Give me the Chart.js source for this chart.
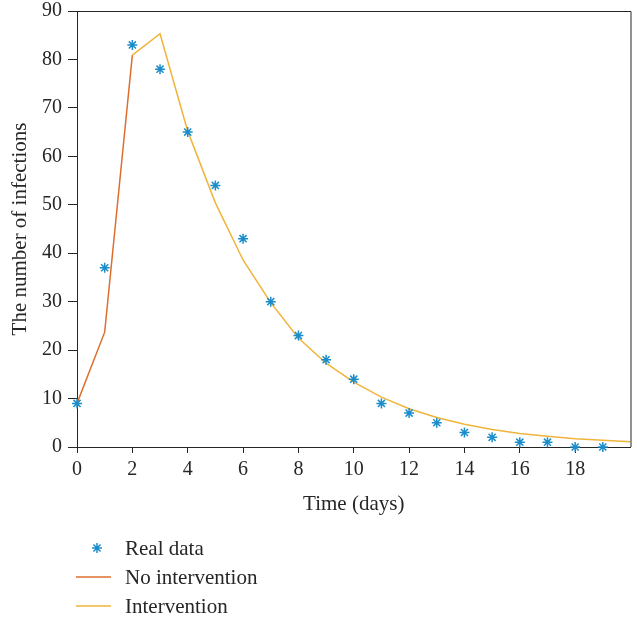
<!DOCTYPE html>
<html>
<head>
<meta charset="utf-8">
<script src="https://cdn.jsdelivr.net/npm/chart.js@4"></script>
<style>
  html, body { margin: 0; padding: 0; background: #fff; }
  #wrap { width: 637px; height: 622px; }
</style>
</head>
<body>
<div id="wrap"><canvas id="infectionChart"></canvas></div>
<script>
// data
const days = [0, 1, 2, 3, 4, 5, 6, 7, 8, 9, 10, 11, 12, 13, 14, 15, 16, 17, 18, 19];
const realData = [9, 37, 83, 78, 65, 54, 43, 30, 23, 18, 14, 9, 7, 5, 3, 2, 1, 1, 0, 0];
const noInterventionDays = [0, 1, 2];
const noIntervention = [9, 23.7, 80.9];
const interventionDays = [2, 3, 4, 5, 6, 7, 8, 9, 10, 11, 12, 13, 14, 15, 16, 17, 18, 19, 20];
const intervention = [80.9, 85.3, 65.2, 50.4, 38.6, 29.8, 22.5, 17.3, 13.4, 10.3, 7.9, 6.1, 4.7, 3.6, 2.8, 2.2, 1.7, 1.4, 1.1];
const xTicks = [0, 2, 4, 6, 8, 10, 12, 14, 16, 18];
const yTicks = [0, 10, 20, 30, 40, 50, 60, 70, 80, 90];

const BLUE = "#1b8dcb";
const ORANGE = "#dd6f2e";
const YELLOW = "#f0b43a";
const AXIS = "#262626";
const FONT = "'Liberation Serif', 'DejaVu Serif', serif";

const toPoints = (xs, ys) => xs.map((x, i) => ({ x: x, y: ys[i] }));

// top and right edges of the axes box
const boxPlugin = {
    id: "box",
    afterDraw(chart) {
        const { ctx, chartArea: a } = chart;
        ctx.save();
        ctx.strokeStyle = AXIS;
        ctx.lineWidth = 1;
        ctx.beginPath();
        ctx.moveTo(a.left, a.top + 0.5);
        ctx.lineTo(a.right + 0.5, a.top + 0.5);
        ctx.lineTo(a.right + 0.5, a.bottom);
        ctx.stroke();
        ctx.restore();
    }
};

// legend stacked under the x axis title
const legendPlugin = {
    id: "stackLegend",
    afterDraw(chart) {
        const ctx = chart.ctx;
        const items = chart.data.datasets;
        ctx.save();
        ctx.font = "21px " + FONT;
        ctx.textBaseline = "middle";
        items.forEach((ds, i) => {
            const y = 548 + i * 29;
            ctx.strokeStyle = ds.borderColor;
            ctx.lineWidth = 1.5;
            if (ds.showLine === false) {
                Chart.helpers.drawPoint(ctx, {
                    pointStyle: "star", radius: 5, borderWidth: 1.5, rotation: 0
                }, 97, y);
            } else {
                ctx.beginPath();
                ctx.moveTo(76, y);
                ctx.lineTo(111, y);
                ctx.stroke();
            }
            ctx.fillStyle = AXIS;
            ctx.fillText(ds.label, 125, y + 1);
        });
        ctx.restore();
    }
};

const ctx = document.getElementById("infectionChart").getContext("2d");
new Chart(ctx, {
    type: "scatter",
    data: {
        datasets: [
            {
                label: "Real data",
                data: toPoints(days, realData),
                showLine: false,
                clip: false,
                pointStyle: "star",
                pointRadius: 5,
                pointBorderWidth: 1.5,
                borderColor: BLUE,
                backgroundColor: BLUE,
                order: 0
            },
            {
                label: "No intervention",
                data: toPoints(noInterventionDays, noIntervention),
                showLine: true,
                pointRadius: 0,
                borderWidth: 1.5,
                borderColor: ORANGE,
                tension: 0,
                order: 2
            },
            {
                label: "Intervention",
                data: toPoints(interventionDays, intervention),
                showLine: true,
                pointRadius: 0,
                borderWidth: 1.5,
                borderColor: YELLOW,
                tension: 0,
                order: 1
            }
        ]
    },
    options: {
        responsive: true,
        maintainAspectRatio: false,
        animation: false,
        layout: { padding: { top: 0, right: 6, bottom: 105, left: 0 } },
        plugins: {
            legend: { display: false },
            tooltip: { enabled: false }
        },
        scales: {
            x: {
                type: "linear",
                min: 0,
                max: 20,
                afterBuildTicks: (axis) => { axis.ticks = xTicks.map(v => ({ value: v })); },
                afterFit: (axis) => { axis.height = 70; },
                ticks: {
                    color: AXIS,
                    padding: 5,
                    font: { family: FONT, size: 20 }
                },
                grid: { drawOnChartArea: false, drawTicks: true, tickLength: 6, tickColor: AXIS },
                border: { display: true, color: AXIS, width: 1 },
                title: {
                    display: true,
                    text: "Time (days)",
                    color: AXIS,
                    font: { family: FONT, size: 21 },
                    padding: { top: 2, bottom: 0 }
                }
            },
            y: {
                min: 0,
                max: 90,
                afterBuildTicks: (axis) => { axis.ticks = yTicks.map(v => ({ value: v })); },
                afterFit: (axis) => { axis.width = 77; },
                ticks: {
                    color: AXIS,
                    padding: 6,
                    font: { family: FONT, size: 20, lineHeight: 0.5 }
                },
                grid: { drawOnChartArea: false, drawTicks: true, tickLength: 9, tickColor: AXIS },
                border: { display: true, color: AXIS, width: 1 },
                title: {
                    display: true,
                    text: "The number of infections",
                    color: AXIS,
                    font: { family: FONT, size: 21 },
                    padding: { top: 8, bottom: 0 }
                }
            }
        }
    },
    plugins: [boxPlugin, legendPlugin]
});
</script>
</body>
</html>
